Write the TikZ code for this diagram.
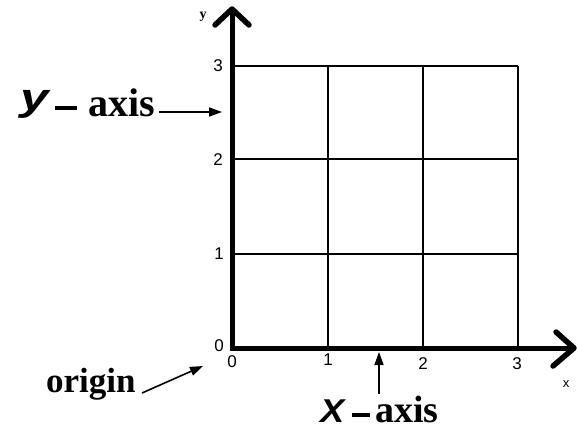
\documentclass[tikz,border=0pt]{standalone}
\usepackage{fontspec}
\setmainfont{Liberation Serif}
\setsansfont{Liberation Sans}
\usetikzlibrary{arrows.meta}
\begin{document}
\begin{tikzpicture}[x=1pt,y=-1pt,
  axisline/.style={line width=5pt},
  gridline/.style={line width=2.2pt},
  chev/.style={line width=5.5pt, line cap=round, line join=round},
  ticklab/.style={font=\sffamily\fontsize{17}{17}\selectfont, inner sep=0pt},
  biglab/.style={font=\bfseries\fontsize{40}{40}\selectfont, inner sep=0pt, anchor=base west},
  letlab/.style={font=\sffamily\bfseries\itshape\fontsize{38}{38}\selectfont, inner sep=0pt, anchor=base west},
  pointer/.style={line width=1.6pt, -{Triangle[length=13pt,width=9pt]}}]
\useasboundingbox (0,0) rectangle (577,432);
% grid
\foreach \yy in {66,159,254} \draw[gridline] (232,\yy) -- (518,\yy);
\foreach \xx in {328,423,518} \draw[gridline] (\xx,66) -- (\xx,348);
% axes
\coordinate (O) at (232,348);
\coordinate (ytip) at (232,9);
\coordinate (xtip) at (574,348);
\draw[axisline] (232,350) -- (ytip);
\draw[axisline] (230,348) -- (xtip);
\draw[chev] (215,25) -- (ytip) -- (249,25);
\draw[chev] (556,332) -- (xtip) -- (553,366);
% tick labels
\node[ticklab] (ly) at (203,17) {\rmfamily\bfseries\fontsize{14}{14}\selectfont y};
\node[ticklab] (l3) at (218,66) {3};
\node[ticklab] (l2) at (218,160) {2};
\node[ticklab] (l1) at (219,254) {1};
\node[ticklab] (l0) at (219,346) {0};
\node[ticklab] (b0) at (232,362) {0};
\node[ticklab] (b1) at (328,360) {1};
\node[ticklab] (b2) at (423,364) {2};
\node[ticklab] (b3) at (517,364) {3};
\node[ticklab] (lx) at (566,384) {\fontsize{13}{13}\selectfont x};
% y-axis label
\node[letlab] (ylet) at (20,110) {\scalebox{1.35}[1]{y}};
\node[biglab] (ytext) at (55,116) {\rule[6.2pt]{22pt}{3.6pt}\hspace{11pt}axis};
\coordinate (yarr) at (222,112);
\draw[pointer] (ytext.east |- yarr) ++(4,0) -- (yarr);
% x-axis label
\node[letlab, font=\sffamily\bfseries\itshape\fontsize{33}{33}\selectfont] (xlet) at (320,422) {\scalebox{1.1}[1]{X}};
\node[biglab, font=\bfseries\fontsize{38}{38}\selectfont] (xtext) at (352,422) {\rule[5.5pt]{18pt}{3.2pt}\hspace{5pt}axis};
\coordinate (xarrs) at (379,394);
\coordinate (xarr) at (379,352);
\draw[pointer] (xarrs) -- (xarr);
% origin label
\node[biglab, font=\bfseries\fontsize{35}{35}\selectfont] (orig) at (46,392) {origin};
\coordinate (oarrs) at (142,393);
\coordinate (oarr) at (203,366);
\draw[pointer] (oarrs) -- (oarr);
\end{tikzpicture}
\end{document}
